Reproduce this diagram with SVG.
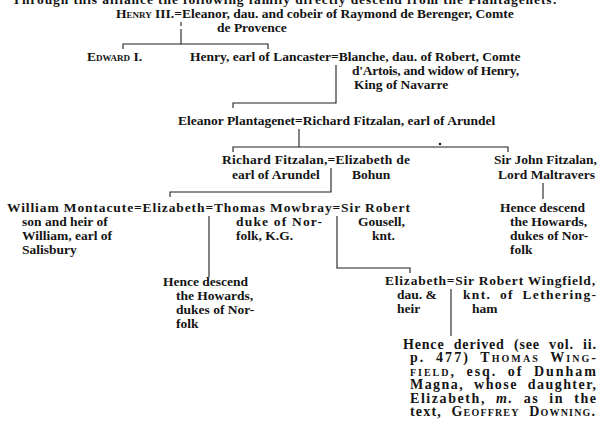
<svg xmlns="http://www.w3.org/2000/svg" width="601" height="429" viewBox="0 0 601 429">
<style>
text { font-family: "Liberation Serif", "Times New Roman", serif; font-size: 13.5px; font-weight: bold; fill: #141414; }
.sc { font-variant: small-caps; }
.it { font-style: italic; }
.par { font-size: 14px; word-spacing: 5px; }
.ln { stroke: #1e1e1e; stroke-width: 1.1; fill: none; }
</style>
<rect width="601" height="429" fill="#ffffff"/>
<g id="intro">
<text x="12" y="4" textLength="545">Through this alliance the following family directly descend from the Plantagenets:</text>
</g>
<g id="henry-iii">
<text x="116" y="18">H<tspan class="sc">enry</tspan> III.=Eleanor, dau. and cobeir of Raymond de Berenger, Comte</text>
<text x="217" y="32">de Provence</text>
</g>
<g id="edward-i">
<text x="87" y="61">E<tspan class="sc">dward</tspan> I.</text>
</g>
<g id="henry-lancaster">
<text x="190" y="61">Henry, earl of Lancaster=Blanche, dau. of Robert, Comte</text>
<text x="352" y="75" textLength="167">d'Artois, and widow of Henry,</text>
<text x="354" y="89">King of Navarre</text>
</g>
<g id="eleanor-plantagenet">
<text x="178" y="125">Eleanor Plantagenet=Richard Fitzalan, earl of Arundel</text>
</g>
<g id="richard-fitzalan">
<text x="222" y="164" textLength="188">Richard Fitzalan,=Elizabeth de</text>
<text x="232" y="179">earl of Arundel</text>
<text x="352" y="179">Bohun</text>
</g>
<g id="john-fitzalan">
<text x="494" y="164">Sir John Fitzalan,</text>
<text x="498" y="179">Lord Maltravers</text>
</g>
<g id="howards-right">
<text x="500" y="212">Hence descend</text>
<text x="510" y="226">the Howards,</text>
<text x="510" y="240">dukes of Nor-</text>
<text x="510" y="254">folk</text>
</g>
<g id="elizabeth-fitzalan">
<text x="7" y="212" textLength="403">William Montacute=Elizabeth=Thomas Mowbray=Sir Robert</text>
<text x="22" y="226">son and heir of</text>
<text x="22" y="240">William, earl of</text>
<text x="22" y="254">Salisbury</text>
<text x="236" y="226" textLength="86">duke of Nor-</text>
<text x="236" y="240">folk, K.G.</text>
<text x="358" y="226">Gousell,</text>
<text x="372" y="240">knt.</text>
</g>
<g id="howards-left">
<text x="163" y="286">Hence descend</text>
<text x="176" y="300">the Howards,</text>
<text x="176" y="314">dukes of Nor-</text>
<text x="176" y="328">folk</text>
</g>
<g id="elizabeth-wingfield">
<text x="385" y="285" textLength="210">Elizabeth=Sir Robert Wingfield,</text>
<text x="397" y="299">dau. &amp;</text>
<text x="397" y="313">heir</text>
<text x="463" y="299" textLength="133" style="word-spacing:4px">knt. of Lethering-</text>
<text x="472" y="313">ham</text>
</g>
<g id="wingfield-descent" class="par">
<text class="par" x="403" y="349" textLength="193">Hence derived (see vol. ii.</text>
<text class="par" x="410" y="362" textLength="186">p. 477) T<tspan class="sc">homas</tspan> W<tspan class="sc">ing-</tspan></text>
<text class="par" x="410" y="376" textLength="186"><tspan class="sc">field</tspan>, esq. of Dunham</text>
<text class="par" x="410" y="389" textLength="186">Magna, whose daughter,</text>
<text class="par" x="410" y="403" textLength="186">Elizabeth, <tspan class="it">m.</tspan> as in the</text>
<text class="par" x="410" y="416" textLength="185">text, G<tspan class="sc">eoffrey</tspan> D<tspan class="sc">owning</tspan>.</text>
</g>
<g id="connectors">
<path class="ln" d="M181,22 V26 M181,29 V44"/>
<path class="ln" d="M123,49 V44 H268 V49"/>
<path class="ln" d="M336,65 V103 H233 V108"/>
<path class="ln" d="M299,129 V147"/>
<path class="ln" d="M233,152 V147 H508 V152"/>
<circle cx="440" cy="144" r="1.3" fill="#1e1e1e"/>
<path class="ln" d="M331,168 V192 H170 V197"/>
<path class="ln" d="M543,183 V199"/>
<path class="ln" d="M209,216 V277"/>
<path class="ln" d="M337,216 V268 H410 V273"/>
<path class="ln" d="M451,289 V336"/>
</g>
</svg>
